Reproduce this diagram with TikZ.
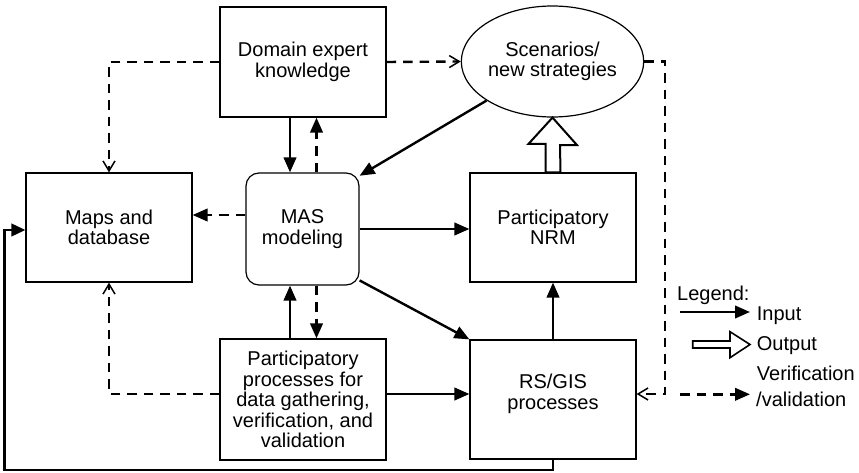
\documentclass[tikz,border=0pt]{standalone}
\usepackage{fontspec}
\setmainfont{Liberation Sans}
\usetikzlibrary{arrows.meta,shapes.geometric,calc}
\begin{document}
\begin{tikzpicture}[x=1pt,y=-1pt,
  every node/.style={font=\fontsize{20}{20.5}\selectfont},
  box/.style={draw,line width=1.2pt,align=center,inner sep=0pt},
  solidarrow/.style={line width=2.4pt,-{Triangle[length=15pt,width=12.5pt]}},
  dashfill/.style={line width=2.4pt,dash pattern=on 9.5pt off 7pt,-{Triangle[length=15pt,width=12.5pt]}},
  dashopen/.style={line width=2.4pt,dash pattern=on 9.5pt off 7pt,-{Straight Barb[length=10pt,width=12pt,line width=1.5pt]}},
  hollow/.style={line width=2pt,fill=white,line join=miter}
]
\useasboundingbox (0,0) rectangle (859,473);
% nodes
\node[box,minimum width=166pt,minimum height=110pt] (dek) at (303,62) {Domain expert\\knowledge};
\node[box,minimum width=166pt,minimum height=109pt] (maps) at (109,227.5) {Maps and\\database};
\node[box,rounded corners=13pt,minimum width=113pt,minimum height=112pt] (mas) at (302.5,229) {MAS\\modeling};
\node[draw,ellipse,line width=1.2pt,minimum width=169pt,minimum height=111pt,inner sep=0pt,align=center] (sc) at (552.5,61.5) {Scenarios/\\new strategies};
\node[box,minimum width=166pt,minimum height=109pt] (nrm) at (553,227.5) {Participatory\\NRM};
\node[box,minimum width=166pt,minimum height=121pt] (pp) at (303,399.5) {Participatory\\processes for\\data gathering,\\verification, and\\validation};
\node[box,minimum width=166pt,minimum height=119pt] (rs) at (553,399.5) {};
\node[align=center] (rst) at (553,394) {RS/GIS\\processes};
% connectors
\draw[solidarrow] ([xshift=-13pt]dek.south) -- ([xshift=-13pt]dek.south |- mas.north);
\draw[dashfill] ([xshift=14pt]mas.north) -- ([xshift=14pt]mas.north |- dek.south);
\draw[solidarrow] ([xshift=-13pt]pp.north) -- ([xshift=-13pt]pp.north |- mas.south);
\draw[dashfill] ([xshift=14pt]mas.south) -- ([xshift=14pt]mas.south |- pp.north);
\draw[dashfill] ([yshift=14pt]mas.west) -- ([yshift=14pt]mas.west -| maps.east);
\draw[solidarrow] (mas.east) -- (mas.east -| nrm.west);
\draw[solidarrow] (sc) -- (mas.43);
\draw[solidarrow] (mas.-42) -- (rs.north west);
\draw[solidarrow] (rs.north) -- (nrm.south);
\draw[solidarrow] ([yshift=5.5pt]pp.east) -- ([yshift=5.5pt]pp.east -| rs.west);
\draw[dashopen] (dek.west) -| (maps.north);
\draw[dashopen] (dek.east) -- (sc.west);
\draw[dashopen] ([yshift=5.5pt]pp.west) -| (maps.south);
\draw[dashopen] (sc.east) -- ++(21,0) |- ([yshift=5.5pt]rs.east);
\draw[line width=2.4pt,line join=miter,-{Triangle[length=14pt,width=12.5pt]}] (rs.south) -- ++(0,10.5) -| ($(maps.west)+(-21,2.5)$) -- ([yshift=-2.5pt]maps.west);
\draw[hollow] ([xshift=-7.5pt]nrm.north) -- ++(0,-28.5) -- ++(-17,0) -- (sc.south) -- ++(24.5,27.5) -- ++(-17,0) -- ([xshift=7.5pt]nrm.north) -- cycle;
% legend
\node[anchor=base west,inner sep=0pt] (lg) at (677,300.7) {Legend:};
\node[anchor=base west,inner sep=0pt] (lin) at (756.7,320.7) {Input};
\node[anchor=base west,inner sep=0pt] (lout) at (756.7,350) {Output};
\node[anchor=base west,inner sep=0pt] (lver) at (756.7,380) {Verification};
\node[anchor=base west,inner sep=0pt] (lval) at (756,406.7) {/validation};
\coordinate (a1) at (680,312);
\coordinate (a2) at (750,312);
\draw[solidarrow] (a1) -- (a2);
\coordinate (o1) at (692.7,341);
\draw[hollow,line width=1.6pt] (o1) -- ++(37.3,0) -- ++(0,-9.3) -- ++(20,12.8) -- ++(-20,13.2) -- ++(0,-9.7) -- ++(-37.3,0) -- cycle;
\coordinate (d1) at (680,394.3);
\coordinate (d2) at (750,394.3);
\draw[dashfill] (d1) -- (d2);
\end{tikzpicture}
\end{document}
